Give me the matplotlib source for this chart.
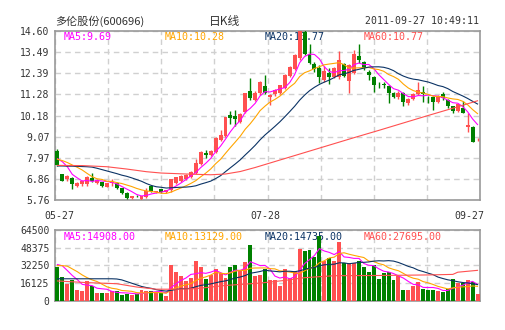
import matplotlib
matplotlib.use("Agg")
import matplotlib.pyplot as plt
import numpy as np
import pandas as pd

# daily candles 2011-05-27 .. 2011-09-27
opens = [8.34, 7.12, 6.84, 6.93, 6.49, 6.60, 6.60, 6.89, 6.67, 6.68,
         6.46, 6.63, 6.63, 6.37, 6.14, 5.85, 5.98, 5.80, 5.93, 6.49,
         6.16, 6.32, 6.17, 6.28, 6.63, 6.77, 6.84, 6.95, 7.16, 7.64,
         8.23, 8.11, 8.27, 8.90, 9.11, 10.21, 10.15, 9.84, 10.38, 11.46,
         10.99, 11.34, 11.72, 11.13, 11.29, 11.34, 11.60, 12.25, 12.59, 13.17,
         14.55, 13.40, 12.90, 12.65, 12.04, 12.42, 12.21, 12.18, 12.87, 12.00,
         12.39, 13.31, 12.99, 12.44, 12.21, 11.82, 11.81, 11.72, 11.34, 11.13,
         11.37, 10.82, 11.03, 11.30, 11.43, 11.09, 11.13, 10.90, 11.30, 10.99,
         10.68, 10.42, 10.59, 9.60, 9.60, 8.94]
highs = [8.41, 7.14, 7.07, 6.95, 6.72, 6.81, 7.02, 7.16, 6.86, 6.72,
         6.66, 6.84, 6.72, 6.40, 6.16, 5.98, 6.03, 5.99, 6.37, 6.52,
         6.25, 6.35, 6.30, 6.86, 6.98, 7.07, 7.10, 7.30, 7.90, 8.31,
         8.40, 8.36, 9.05, 9.40, 10.12, 10.44, 10.48, 10.33, 11.36, 12.12,
         11.45, 12.00, 12.29, 11.30, 11.55, 11.80, 12.33, 12.75, 13.40, 14.70,
         14.90, 13.92, 13.00, 12.82, 12.75, 12.65, 12.70, 13.57, 12.95, 12.90,
         13.60, 13.92, 13.05, 12.55, 12.25, 11.95, 11.95, 11.80, 11.40, 11.45,
         11.40, 11.10, 11.35, 11.95, 11.74, 11.20, 11.20, 11.25, 11.40, 11.02,
         10.70, 10.80, 10.94, 10.29, 9.62, 9.02]
lows = [7.55, 6.75, 6.74, 6.32, 6.42, 6.49, 6.49, 6.70, 6.62, 6.42,
        6.44, 6.49, 6.32, 6.08, 5.80, 5.80, 5.90, 5.77, 5.88, 6.16,
        6.14, 6.15, 6.14, 6.20, 6.58, 6.72, 6.80, 6.90, 7.12, 7.60,
        7.95, 8.05, 8.20, 8.85, 9.05, 9.75, 9.61, 9.80, 10.33, 11.00,
        10.95, 11.25, 11.30, 10.73, 11.20, 11.30, 11.55, 12.20, 12.55, 13.10,
        13.35, 12.85, 12.45, 11.90, 11.95, 11.85, 12.15, 12.10, 12.20, 11.34,
        12.35, 12.95, 12.55, 12.05, 11.43, 11.60, 11.60, 10.82, 11.10, 11.05,
        10.70, 10.75, 11.00, 11.25, 10.90, 10.85, 10.47, 10.85, 11.00, 10.55,
        10.30, 10.35, 10.30, 9.34, 8.80, 8.85]
closes = [7.59, 6.77, 7.02, 6.58, 6.63, 6.75, 6.95, 6.75, 6.81, 6.51,
          6.63, 6.72, 6.37, 6.11, 5.85, 5.97, 5.96, 5.97, 6.25, 6.23,
          6.23, 6.19, 6.26, 6.84, 6.95, 7.02, 7.07, 7.24, 7.70, 8.27,
          8.11, 8.34, 9.02, 9.16, 10.09, 10.06, 10.00, 10.26, 11.34, 11.11,
          11.37, 11.95, 11.37, 11.25, 11.51, 11.77, 12.30, 12.70, 13.34, 14.58,
          13.40, 12.94, 12.60, 12.18, 12.51, 12.18, 12.65, 13.08, 12.25, 12.82,
          13.40, 13.08, 12.65, 12.30, 11.77, 11.81, 11.80, 11.37, 11.17, 11.37,
          10.90, 11.04, 11.30, 11.51, 11.30, 11.08, 10.90, 11.17, 11.08, 10.68,
          10.42, 10.76, 10.33, 9.68, 8.81, 8.95]
volumes = [31000, 21800, 15200, 18900, 9700, 9100, 18100, 13100, 7000, 7000,
           7000, 8500, 8500, 5200, 6100, 5200, 6100, 10000, 8500, 9100,
           7300, 6700, 4300, 32900, 25900, 22800, 17700, 20700, 35900, 31000,
           19500, 23100, 29000, 25300, 20700, 31000, 32900, 28300, 35300, 50500,
           22200, 23700, 29200, 18600, 18600, 13100, 28900, 20700, 27400, 47400,
           45000, 46500, 40000, 58700, 36500, 38700, 36500, 53800, 34100, 34300,
           34300, 36500, 30400, 26000, 32900, 20000, 25300, 26500, 19200, 22200,
           10000, 10000, 13100, 17000, 10700, 9410, 10000, 9000, 7600, 10700,
           19450, 16540, 16000, 19000, 17000, 6000]

# moving averages before the window fills
ma5_head = [7.92, 7.76, 7.50, 7.10]
ma10_head = [7.89, 7.82, 7.72, 7.59, 7.47, 7.33, 7.15, 6.98, 6.87]
ma20_head = [7.54, 7.54, 7.53, 7.53, 7.52, 7.51, 7.50, 7.48, 7.42, 7.35,
             7.28, 7.21, 7.14, 7.06, 7.00, 6.92, 6.83, 6.74, 6.62]
ma60_idx = [0, 5, 10, 14, 18, 21, 26, 31, 34, 37, 40, 45, 50, 55, 60, 65, 70, 75, 80, 85]
ma60_val = [7.57, 7.56, 7.50, 7.38, 7.24, 7.17, 7.12, 7.08, 7.12, 7.25,
            7.46, 7.85, 8.24, 8.63, 9.02, 9.40, 9.79, 10.18, 10.56, 10.95]

vol_ma5_head = [33000, 31800, 27500, 23000]
vol_ma10_head = [32000, 32000, 31500, 29000, 26500, 23500, 21000, 19000, 17500]
vol_ma20_head = [20000, 20000, 20000, 20000, 20000, 20000, 20000, 20000, 20000, 20000,
                 20000, 20000, 19800, 19000, 17500, 16000, 14500, 13000, 12000]
vol_ma60_idx = [0, 6, 12, 16, 20, 24, 28, 34, 41, 46, 50, 56, 65, 75, 80, 81, 85]
vol_ma60_val = [18000, 16500, 15500, 12500, 10500, 10500, 11000, 13900, 16100, 18500,
                21000, 22800, 23000, 23500, 24000, 26000, 27700]

price_ticks = ["5.76", "6.86", "7.97", "9.07", "10.18", "11.28", "12.39", "13.49", "14.60"]
vol_ticks = ["0", "16125", "32250", "48375", "64500"]
date_labels = ["05-27", "07-28", "09-27"]

RED = "#ff5050"
GREEN = "#008000"
C_MA = ["#ff00ff", "#ffa500", "#0b3365", "#ff5050"]
MONO = "DejaVu Sans Mono"
CJK = ["Noto Sans CJK SC", "DejaVu Sans"]


def moving(values, n, head):
    s = pd.Series(values, dtype=float).rolling(n).mean().to_numpy()
    s[:n - 1] = head
    return s


W, H = 505, 330
fig = plt.figure(figsize=(W / 100, H / 100), dpi=100)


def px_axes(x0, y0, x1, y1):
    return fig.add_axes([x0 / W, 1 - y1 / H, (x1 - x0) / W, (y1 - y0) / H])


n = len(closes)
x = np.arange(n)
o = np.array(opens)
c = np.array(closes)
cols = np.where(c >= o, RED, GREEN)

ax = px_axes(55, 31, 480, 200)
axv = px_axes(55, 230, 480, 300.7)

for a in (ax, axv):
    a.set_xlim(-0.5, n - 0.5)
    a.set_xticks(np.linspace(-0.5, n - 0.5, 9))
    a.set_xticklabels([])
    a.tick_params(length=0, labelsize=7, colors="#333333", pad=4)
    a.grid(True, ls=(0, (4, 3)), color="#d0d0d0", lw=1)
    a.set_axisbelow(True)
    for sp in a.spines.values():
        sp.set_color("#999999")
        sp.set_linewidth(1.2)

# price panel
ax.set_ylim(5.76, 14.60)
ax.set_yticks(np.linspace(5.76, 14.60, 9))
ax.set_yticklabels(price_ticks, family=MONO)
ax.vlines(x, lows, highs, colors=cols, lw=1, zorder=3)
ax.bar(x, np.maximum(np.abs(c - o), 0.035), bottom=np.minimum(o, c), width=0.8,
       color=cols, linewidth=0, zorder=3)
ax.plot(x, moving(closes, 5, ma5_head), color=C_MA[0], lw=0.8, zorder=4)
ax.plot(x, moving(closes, 10, ma10_head), color=C_MA[1], lw=0.8, zorder=4)
ax.plot(x, moving(closes, 20, ma20_head), color=C_MA[2], lw=0.8, zorder=4)
ax.plot(ma60_idx, ma60_val, color=C_MA[3], lw=0.8, zorder=4)

# volume panel
axv.set_ylim(0, 64500)
axv.set_yticks(np.linspace(0, 64500, 5))
axv.set_yticklabels(vol_ticks, family=MONO)
axv.bar(x, volumes, width=0.8, color=cols, linewidth=0, zorder=3)
axv.plot(x, moving(volumes, 5, vol_ma5_head), color=C_MA[0], lw=0.8, zorder=4)
axv.plot(x, moving(volumes, 10, vol_ma10_head), color=C_MA[1], lw=0.8, zorder=4)
axv.plot(x, moving(volumes, 20, vol_ma20_head), color=C_MA[2], lw=0.8, zorder=4)
axv.plot(vol_ma60_idx, vol_ma60_val, color=C_MA[3], lw=0.8, zorder=4)

# MA legends, drawn under the candles like the original
price_lbl = ["MA5:9.69", "MA10:10.28", "MA20:10.77", "MA60:10.77"]
vol_lbl = ["MA5:14908.00", "MA10:13129.00", "MA20:14735.00", "MA60:27695.00"]
for k, xp in enumerate([64, 165, 265, 364]):
    ax.text(xp / W, 1 - 37 / H, price_lbl[k], transform=fig.transFigure,
            color=C_MA[k], family=MONO, fontsize=7.2, va="center", ha="left", zorder=2)
    axv.text(xp / W, 1 - 237 / H, vol_lbl[k], transform=fig.transFigure,
             color=C_MA[k], family=MONO, fontsize=7.2, va="center", ha="left", zorder=2)

# header
fig.text(55 / W, 1 - 21.5 / H, "多伦股份(600696)", family=CJK, fontsize=8,
         color="#333333", va="center", ha="left")
fig.text(224.5 / W, 1 - 21.5 / H, "日K线", family=CJK, fontsize=8.5,
         color="#333333", va="center", ha="center")
fig.text(479 / W, 1 - 21.5 / H, "2011-09-27 10:49:11", family=MONO, fontsize=7.1,
         color="#333333", va="center", ha="right")

# date labels
for lbl, xp in zip(date_labels, [59.5, 265, 469.5]):
    fig.text(xp / W, 1 - 216 / H, lbl, family=MONO, fontsize=7.1,
             color="#333333", va="center", ha="center")

fig.savefig("out.png", dpi=100, facecolor="white")
